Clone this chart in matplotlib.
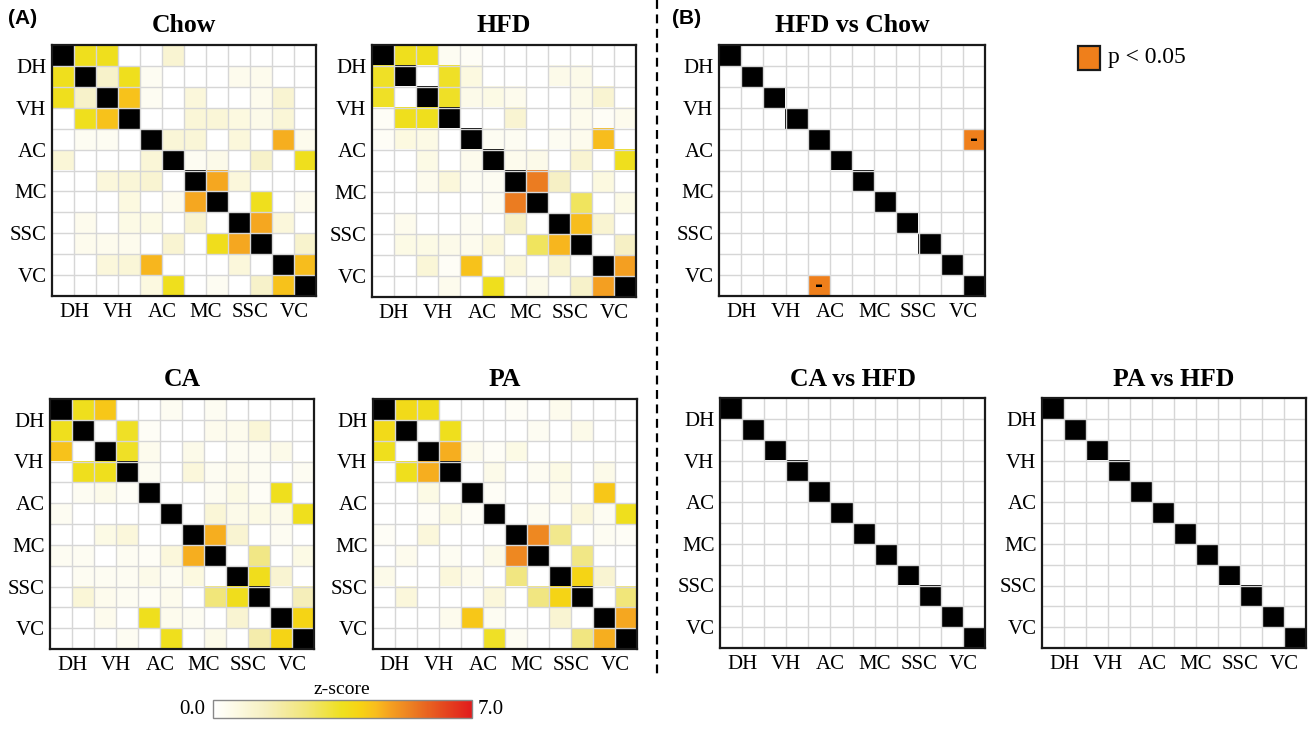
import numpy as np
import matplotlib
matplotlib.use("Agg")
import matplotlib.pyplot as plt
from matplotlib.colors import LinearSegmentedColormap, ListedColormap, Normalize
from matplotlib.lines import Line2D
from matplotlib.patches import Rectangle
import matplotlib.colorbar as mcolorbar

plt.rcParams['font.family'] = ['Liberation Serif', 'DejaVu Serif']

# ---------------- data ----------------
regions = ['DH', 'VH', 'AC', 'MC', 'SSC', 'VC']

chow = [
    [0, 3.5, 3.5, 0, 0, 1.0, 0, 0, 0, 0, 0, 0],
    [3.5, 0, 1.2, 3.5, 0.3, 0, 0, 0, 0.4, 0.4, 0, 0],
    [3.5, 1.2, 0, 4.3, 0.3, 0, 0.8, 0, 0, 0.4, 1.0, 0],
    [0, 3.5, 4.3, 0, 0, 0, 0.9, 0.9, 0.7, 0.5, 0.9, 0],
    [0, 0.3, 0.3, 0, 0, 0.9, 0.9, 0, 0.8, 0, 4.6, 0.4],
    [0.9, 0, 0, 0, 0.9, 0, 0.3, 0.5, 0, 1.2, 0, 3.5],
    [0, 0, 0.8, 0.9, 1.0, 0, 0, 4.7, 0.8, 0, 0, 0],
    [0, 0, 0, 0.7, 0, 0.4, 4.7, 0, 0, 3.5, 0, 0.4],
    [0, 0.4, 0, 0.6, 0.6, 0, 1.0, 0, 0, 4.7, 0.8, 0],
    [0, 0.4, 0.4, 0.4, 0, 1.0, 0, 3.6, 4.7, 0, 0, 1.1],
    [0, 0, 0.8, 0.9, 4.5, 0, 0, 0, 0.8, 0, 0, 4.4],
    [0, 0, 0, 0, 0.7, 3.5, 0, 0.3, 0, 1.2, 4.3, 0],
]

hfd = [
    [0, 3.5, 3.5, 0.3, 0.2, 0, 0, 0, 0, 0, 0, 0],
    [3.4, 0, 0, 3.4, 0.7, 0, 0, 0, 0.5, 0.5, 0, 0],
    [3.4, 0, 0, 3.4, 0.5, 0.6, 0.4, 0, 0, 0.5, 1.0, 0],
    [0.2, 3.5, 3.5, 0, 0, 0, 1.0, 0, 0, 0.4, 0.2, 0.4],
    [0.2, 0.7, 0.6, 0, 0, 0.3, 0.3, 0, 0.3, 0.4, 4.4, 0],
    [0, 0, 0.6, 0, 0.4, 0, 0.4, 0.5, 0, 1.0, 0, 3.5],
    [0, 0, 0.4, 0.8, 0.3, 0.3, 0, 5.4, 1.3, 0, 0.7, 0],
    [0, 0, 0, 0, 0, 0.3, 5.4, 0, 0, 2.8, 0, 0.6],
    [0, 0.4, 0, 0, 0.3, 0, 1.2, 0, 0, 4.4, 1.0, 0],
    [0, 0.6, 0.6, 0.5, 0.4, 0.8, 0, 2.8, 4.5, 0, 0, 1.3],
    [0, 0, 0.9, 0.2, 4.3, 0, 0.8, 0, 1.0, 0, 0, 4.8],
    [0, 0, 0, 0.4, 0, 3.5, 0, 0.5, 0, 1.2, 4.8, 0],
]

ca = [
    [0, 3.5, 4.2, 0, 0, 0.3, 0, 0.3, 0, 0, 0, 0],
    [3.5, 0, 0, 3.4, 0.2, 0, 0, 0.4, 0.4, 0.9, 0, 0],
    [4.3, 0, 0, 3.4, 0.4, 0, 0.5, 0, 0.3, 0.3, 0.5, 0],
    [0, 3.5, 3.5, 0, 0.3, 0, 0.8, 0.3, 0.4, 0.3, 0, 0.3],
    [0, 0.3, 0.5, 0.2, 0, 0, 0, 0.3, 0.6, 0.2, 3.5, 0],
    [0.3, 0, 0, 0, 0, 0, 0, 0.9, 0.5, 0.6, 0.5, 3.5],
    [0, 0, 0.6, 0.8, 0, 0, 0, 4.6, 1.0, 0, 0.3, 0],
    [0.3, 0.3, 0, 0.3, 0.2, 0.8, 4.6, 0, 0, 2.3, 0, 0.6],
    [0, 0.3, 0.3, 0.3, 0.5, 0.3, 0.7, 0, 0, 3.6, 1.0, 0],
    [0, 0.9, 0.4, 0.3, 0.2, 0.4, 0, 2.5, 3.6, 0, 0, 1.5],
    [0, 0, 0.4, 0, 3.5, 0.4, 0.3, 0, 1.0, 0, 0, 3.9],
    [0, 0, 0, 0.3, 0, 3.5, 0, 0.5, 0, 1.7, 3.9, 0],
]

pa = [
    [0, 3.7, 3.6, 0, 0, 0, 0.2, 0, 0.4, 0, 0, 0],
    [3.7, 0, 0, 3.5, 0, 0, 0, 0.3, 0, 0.5, 0, 0],
    [3.5, 0, 0, 4.6, 0.4, 0.2, 0.6, 0, 0, 0, 0, 0],
    [0, 3.5, 4.6, 0, 0, 0.5, 0, 0.3, 0.6, 0, 0.5, 0],
    [0, 0, 0.6, 0, 0, 0.2, 0, 0, 0.4, 0, 4.2, 0],
    [0, 0, 0.2, 0.6, 0.2, 0, 0, 0.3, 0, 0.8, 0.3, 3.5],
    [0.2, 0, 0.8, 0, 0, 0, 0, 5.2, 2.2, 0, 0.3, 0.2],
    [0, 0.4, 0, 0.3, 0, 0.5, 5.2, 0, 0, 2.3, 0, 0],
    [0.5, 0, 0, 0.8, 0.4, 0, 2.4, 0, 0, 3.9, 1.0, 0],
    [0, 0.8, 0, 0, 0, 0.8, 0, 2.4, 3.9, 0, 0, 2.5],
    [0, 0, 0, 0.4, 4.2, 0.3, 0, 0, 1.0, 0, 0, 4.7],
    [0, 0, 0, 0, 0, 3.4, 0.3, 0, 0, 2.4, 4.6, 0],
]

# significant cells (row, col, sign) for the comparison panels
sig_hfd_chow = [(4, 11, '-'), (11, 4, '-')]
sig_ca_hfd = []
sig_pa_hfd = []

zmin, zmax = 0.0, 7.0

# ---------------- styling ----------------
W, H = 1312, 743
fig = plt.figure(figsize=(W / 100, H / 100), dpi=100)


def rect(x0, y0, x1, y1):
    return [x0 / W, 1 - y1 / H, (x1 - x0) / W, (y1 - y0) / H]


zcmap = LinearSegmentedColormap.from_list('z', [
    (0.0, '#ffffff'), (0.10, '#fcf9e0'), (0.20, '#f6efc0'), (0.357, '#f1e67a'),
    (0.50, '#efe01e'), (0.571, '#f7d214'), (0.63, '#f8bd1e'), (0.686, '#f5a021'),
    (0.77, '#ec7e22'), (0.886, '#e54a1f'), (1.0, '#e11b1c')])
zcmap.set_bad('black')
norm = Normalize(zmin, zmax)

sigcmap = ListedColormap(['#ffffff', '#ef7f1b'])
sigcmap.set_bad('black')

n = 2 * len(regions)


def style_axes(ax, title):
    ax.set_xlim(0, n)
    ax.set_ylim(n, 0)
    ax.set_xticks(np.arange(1, n, 2))
    ax.set_xticklabels(regions)
    ax.set_yticks(np.arange(1, n, 2))
    ax.set_yticklabels(regions)
    for k in range(1, n):
        ax.axvline(k, color='#d6d6d6', lw=1.0, zorder=1)
        ax.axhline(k, color='#d6d6d6', lw=1.0, zorder=1)
    ax.tick_params(which='both', length=0, labelsize=15)
    ax.tick_params(axis='x', pad=5)
    ax.tick_params(axis='y', pad=4)
    for s in ax.spines.values():
        s.set_linewidth(1.6)
        s.set_color('#1a1a1a')
        s.set_zorder(3)
    ax.set_title(title, fontsize=18.5, fontweight='bold', pad=9)


def zheat(r, M, title):
    ax = fig.add_axes(rect(*r))
    A = np.array(M, dtype=float)
    np.fill_diagonal(A, np.nan)
    ax.imshow(A, cmap=zcmap, norm=norm, aspect='auto', extent=(0, n, n, 0),
              interpolation='nearest', zorder=0)
    style_axes(ax, title)
    return ax


def sigheat(r, sig, title):
    ax = fig.add_axes(rect(*r))
    A = np.zeros((n, n))
    for (i, j, s) in sig:
        A[i, j] = 1
    np.fill_diagonal(A, np.nan)
    ax.imshow(A, cmap=sigcmap, vmin=0, vmax=1, aspect='auto', extent=(0, n, n, 0),
              interpolation='nearest', zorder=0)
    for (i, j, s) in sig:
        ax.text(j + 0.5, i + 0.5, s, ha='center', va='center', fontsize=14,
                fontweight='bold', family='DejaVu Sans', color='black', zorder=4)
    style_axes(ax, title)
    return ax


zheat((52, 45, 316, 296), chow, 'Chow')
zheat((372, 45, 636, 297), hfd, 'HFD')
zheat((50, 399, 314, 649), ca, 'CA')
zheat((373, 399, 637, 649), pa, 'PA')

sigheat((719, 45, 985, 296), sig_hfd_chow, 'HFD vs Chow')
sigheat((720, 398, 985, 648), sig_ca_hfd, 'CA vs HFD')
sigheat((1042, 398, 1306, 648), sig_pa_hfd, 'PA vs HFD')

# panel labels
fig.text(8 / W, 1 - 18 / H, '(A)', fontsize=15, fontweight='bold',
         family='Liberation Sans', va='center', ha='left')
fig.text(672 / W, 1 - 18 / H, '(B)', fontsize=15, fontweight='bold',
         family='Liberation Sans', va='center', ha='left')

# dashed separator
fig.add_artist(Line2D([657 / W, 657 / W], [1.0, 1 - 676 / H], ls=(0, (4, 2.5)),
                      lw=1.6, color='black'))

# legend for significance
fig.add_artist(Rectangle((1078 / W, 1 - 70 / H), 22 / W, 24 / H, transform=fig.transFigure,
                         facecolor='#ef7f1b', edgecolor='#1a1a1a', lw=1.6))
fig.text(1108 / W, 1 - 57 / H, 'p < 0.05', fontsize=17, va='center', ha='left')

# colorbar
cax = fig.add_axes(rect(213, 700, 472, 718))
cb = mcolorbar.ColorbarBase(cax, cmap=zcmap, norm=norm, orientation='horizontal')
cb.set_ticks([])
cb.outline.set_edgecolor('#888888')
cb.outline.set_linewidth(1.0)
fig.text(205 / W, 1 - 710 / H, f'{zmin:.1f}', fontsize=15, ha='right', va='center')
fig.text(478 / W, 1 - 710 / H, f'{zmax:.1f}', fontsize=15, ha='left', va='center')
fig.text(342 / W, 1 - 689 / H, 'z-score', fontsize=14, ha='center', va='center')

fig.savefig('out.png', dpi=100)
